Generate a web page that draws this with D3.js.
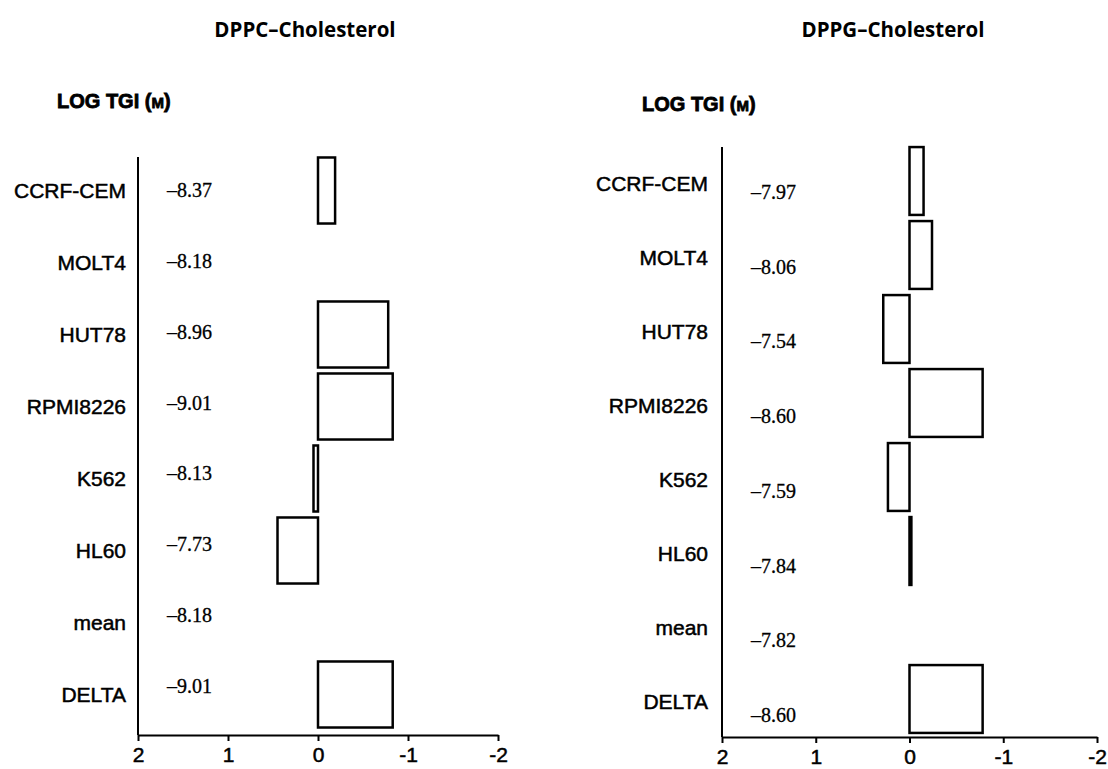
<!DOCTYPE html>
<html>
<head>
<meta charset="utf-8">
<script src="https://cdn.jsdelivr.net/npm/d3@7"></script>
<style>
  body { margin: 0; background: #fff; }
  .cell { font-family: "Liberation Sans", Arial, sans-serif; font-size: 21px; fill: #000; stroke: #000; stroke-width: 0.5px; }
  .val { font-family: "Liberation Serif", "Times New Roman", serif; font-size: 20px; fill: #000; stroke: #000; stroke-width: 0.3px; }
  .title { font-family: "Open Sans", "Noto Sans", sans-serif; font-size: 20.5px; font-weight: 700; fill: #000; }
  .unit { font-family: "Liberation Sans", Arial, sans-serif; font-size: 20px; font-weight: bold; fill: #000; stroke: #000; stroke-width: 0.8px; }
  .tick text { font-family: "Liberation Sans", Arial, sans-serif; font-size: 21px; fill: #000; stroke: #000; stroke-width: 0.5px; }
</style>
</head>
<body>
<svg id="chart" width="1108" height="769"></svg>
<script>
// cell lines (rows), same for both panels
var cells = ["CCRF-CEM", "MOLT4", "HUT78", "RPMI8226", "K562", "HL60", "mean", "DELTA"];

// LOG TGI (M) values
var dppcLogTgi = [-8.37, -8.18, -8.96, -9.01, -8.13, -7.73, -8.18, -9.01];
var dppgLogTgi = [-7.97, -8.06, -7.54, -8.60, -7.59, -7.84, -7.82, -8.60];

var titles = ["DPPC\u2013Cholesterol", "DPPG\u2013Cholesterol"];
var xTicks = [2, 1, 0, -1, -2];

var svg = d3.select("#chart");

// panel geometry (pixels) kept apart from the data
var panels = [
  { title: titles[0], vals: dppcLogTgi, titleX: 305, unitX: 57, unitY: 108,
    x0: 138, x1: 498, top: 157, axisY: 735, tickY: 27, band: [154.5, 730.5],
    labelX: 126, labelDy: 0, valX: 167, valRange: [190, 686] },
  { title: titles[1], vals: dppgLogTgi, titleX: 893, unitX: 642, unitY: 111,
    x0: 722, x1: 1097, top: 147, axisY: 737, tickY: 27, band: [144, 736],
    labelX: 708, labelDy: 2, valX: 751, valRange: [192, 715] }
];

panels.forEach(function(p) {
  var g = svg.append("g");

  g.append("text")
   .attr("class", "title")
   .attr("x", p.titleX)
   .attr("y", 37)
   .attr("text-anchor", "middle")
   .text(p.title);

  var unit = g.append("text")
   .attr("class", "unit")
   .attr("x", p.unitX)
   .attr("y", p.unitY);
  unit.append("tspan").text("LOG TGI (");
  unit.append("tspan").attr("font-size", "15px").text("M");
  unit.append("tspan").text(")");

  var x = d3.scaleLinear().domain([2, -2]).range([p.x0, p.x1]);
  var y = d3.scaleBand().domain(cells).range(p.band)
            .paddingInner(0.083).paddingOuter(0.0415);
  var yVal = d3.scalePoint().domain(cells).range(p.valRange);

  // bars show each line's difference from the mean row
  var mean = p.vals[cells.indexOf("mean")];
  var rows = cells.map(function(c, i) {
    return { cell: c, value: p.vals[i], dev: p.vals[i] - mean };
  });

  // vertical axis line
  g.append("line")
   .attr("x1", p.x0).attr("x2", p.x0)
   .attr("y1", p.top).attr("y2", p.axisY)
   .attr("stroke", "#000").attr("stroke-width", 2);

  // bottom axis
  var ax = g.append("g")
   .attr("transform", "translate(0," + p.axisY + ")")
   .call(d3.axisBottom(x).tickValues(xTicks).tickSizeInner(6).tickSizeOuter(0)
           .tickFormat(function(d) { return d < 0 ? "-" + (-d) : d; }));
  ax.select(".domain").attr("stroke-width", 2);
  ax.selectAll(".tick line").attr("stroke-width", 2);
  ax.selectAll(".tick text").attr("y", p.tickY).attr("dy", 0);

  // row labels
  g.selectAll(".cell")
   .data(rows)
   .enter().append("text")
   .attr("class", "cell")
   .attr("x", p.labelX)
   .attr("y", function(d) { return y(d.cell) + y.bandwidth() / 2 + p.labelDy; })
   .attr("dy", "0.36em")
   .attr("text-anchor", "end")
   .text(function(d) { return d.cell; });

  // LOG TGI values
  g.selectAll(".val")
   .data(rows)
   .enter().append("text")
   .attr("class", "val")
   .attr("x", p.valX)
   .attr("y", function(d) { return yVal(d.cell); })
   .attr("dy", "0.35em")
   .text(function(d) { return "\u2013" + d3.format(".2f")(-d.value); });

  // deviation bars from the mean
  g.selectAll(".bar")
   .data(rows.filter(function(d) { return Math.abs(d.dev) > 0.001; }))
   .enter().append("rect")
   .attr("class", "bar")
   .attr("x", function(d) { return Math.min(x(0), x(d.dev)); })
   .attr("y", function(d) { return y(d.cell); })
   .attr("width", function(d) { return Math.abs(x(d.dev) - x(0)); })
   .attr("height", y.bandwidth())
   .attr("fill", "none")
   .attr("stroke", "#000")
   .attr("stroke-width", 2.5);
});
</script>
</body>
</html>
